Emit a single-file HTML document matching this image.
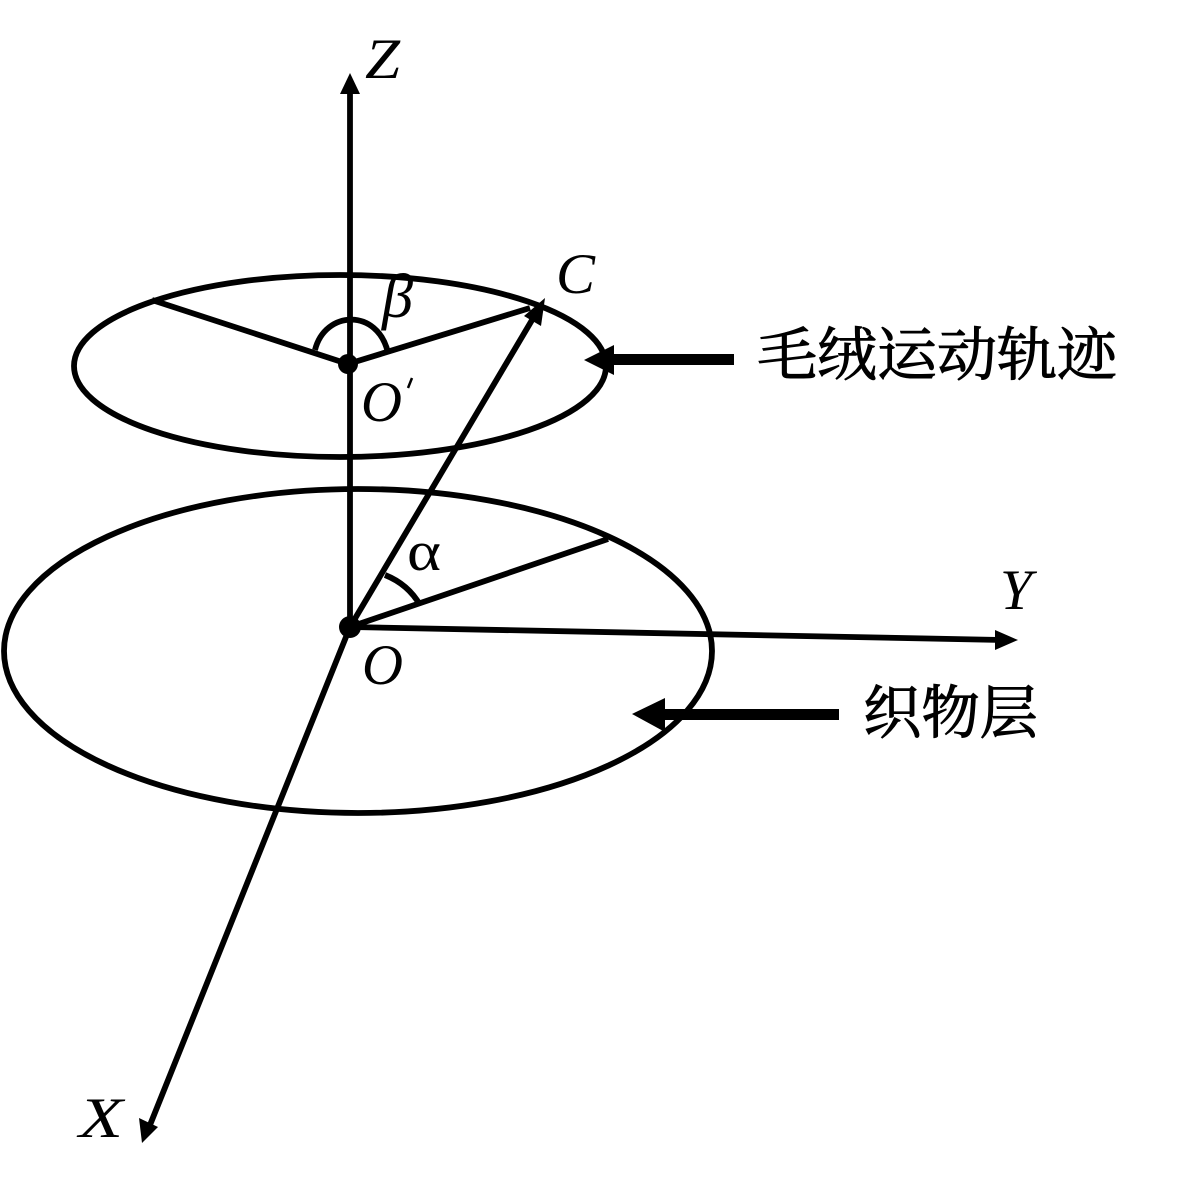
<!DOCTYPE html>
<html>
<head>
<meta charset="utf-8">
<style>
html,body{margin:0;padding:0;background:#fff;width:1181px;height:1192px;overflow:hidden}
svg{display:block}
.i{font-family:"Liberation Serif",serif;font-style:italic;font-size:57px;fill:#000}
.c{font-family:"Liberation Serif","Noto Serif CJK SC",serif;font-size:58px;fill:#000;stroke:#000;stroke-width:1}
</style>
</head>
<body>
<svg width="1181" height="1192" viewBox="0 0 1181 1192" xmlns="http://www.w3.org/2000/svg">
<g fill="none" stroke="#000" stroke-width="5.8">
<ellipse cx="340" cy="366" rx="266" ry="91"/>
<ellipse cx="358" cy="651" rx="354" ry="162"/>
<line x1="350" y1="627" x2="350" y2="90"/>
<line x1="350" y1="627" x2="535" y2="315"/>
<line x1="350" y1="627" x2="1002" y2="640"/>
<line x1="350" y1="627" x2="150" y2="1125"/>
<line x1="350" y1="627" x2="608" y2="539"/>
<line x1="348" y1="364" x2="152" y2="300"/>
<line x1="348" y1="364" x2="530" y2="308"/>
<path d="M315 350 C325 310 378 308 388 353"/>
<path d="M385 575 C400 581 412 591 420 605"/>
</g>
<g fill="#000" stroke="none">
<polygon points="350,73 340,94 360,94"/>
<polygon points="545,298 524,316 541,326"/>
<polygon points="1018,640 995,630 995,650"/>
<polygon points="142,1143 139,1118 158,1127"/>
<circle cx="348" cy="364" r="10"/>
<circle cx="350" cy="627" r="11"/>
<rect x="610" y="354" width="124" height="11"/>
<polygon points="584,360 614,345 614,375"/>
<rect x="660" y="709" width="179" height="11"/>
<polygon points="632,714 665,698 665,732"/>
</g>
<text class="i" x="365" y="78" textLength="35" lengthAdjust="spacingAndGlyphs">Z</text>
<text class="i" x="556" y="293" textLength="39" lengthAdjust="spacingAndGlyphs">C</text>
<text class="i" x="382" y="317" textLength="31" lengthAdjust="spacingAndGlyphs" style="font-size:62px">β</text>
<text class="i" x="361" y="421" textLength="41" lengthAdjust="spacingAndGlyphs">O</text>
<line x1="412" y1="378" x2="408" y2="388" stroke="#000" stroke-width="2.5"/>
<text x="407" y="570" textLength="34" lengthAdjust="spacingAndGlyphs" style="font-family:'Liberation Serif',serif;font-size:56px;fill:#000">α</text>
<text class="i" x="1000" y="609" textLength="32" lengthAdjust="spacingAndGlyphs">Y</text>
<text class="i" x="362" y="684" textLength="41" lengthAdjust="spacingAndGlyphs">O</text>
<text class="i" x="79" y="1137" textLength="44" lengthAdjust="spacingAndGlyphs">X</text>
<text class="c" x="757" y="375" textLength="360" lengthAdjust="spacingAndGlyphs">毛绒运动轨迹</text>
<text class="c" x="863" y="733" textLength="175" lengthAdjust="spacingAndGlyphs">织物层</text>
</svg>
</body>
</html>
